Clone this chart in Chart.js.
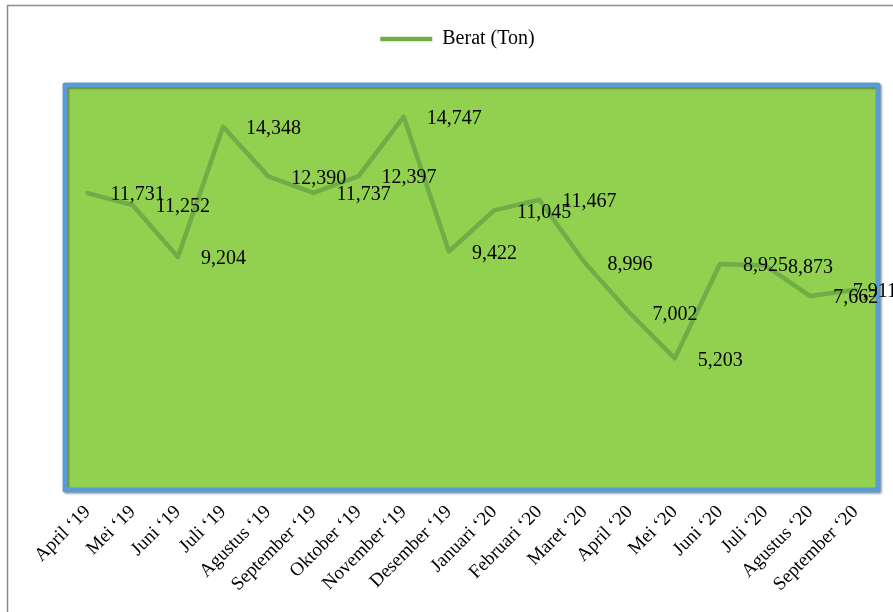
<!DOCTYPE html>
<html>
<head>
<meta charset="utf-8">
<script src="https://cdn.jsdelivr.net/npm/chart.js@4.4.1/dist/chart.umd.min.js"></script>
<style>
  body { margin: 0; background: #fff; }
  #wrap { width: 893px; height: 612px; }
</style>
</head>
<body>
<div id="wrap"><canvas id="beratChart" width="893" height="612"></canvas></div>
<script>
const months = [
    'April ‘19', 'Mei ‘19', 'Juni ‘19', 'Juli ‘19', 'Agustus ‘19', 'September ‘19',
    'Oktober ‘19', 'November ‘19', 'Desember ‘19', 'Januari ‘20', 'Februari ‘20', 'Maret ‘20',
    'April ‘20', 'Mei ‘20', 'Juni ‘20', 'Juli ‘20', 'Agustus ‘20', 'September ‘20'
];
const berat = [
    11731, 11252, 9204, 14348, 12390, 11737, 12397, 14747, 9422,
    11045, 11467, 8996, 7002, 5203, 8925, 8873, 7662, 7911
];
const seriesName = 'Berat (Ton)';
const yMin = 0;
const yMax = 16000;

const SERIF = '"Liberation Serif", "Times New Roman", serif';
const LINE_GREEN = '#70AD47';

// green plot area with the blue frame, plus the grey outer chart border
const plotFrame = {
    id: 'plotFrame',
    beforeDraw(chart) {
        const { ctx, chartArea: a } = chart;
        ctx.save();
        ctx.strokeStyle = '#8c8c8c';
        ctx.lineWidth = 1.5;
        ctx.beginPath();
        ctx.moveTo(7.5, chart.height + 2);
        ctx.lineTo(7.5, 5.5);
        ctx.lineTo(chart.width + 2, 5.5);
        ctx.stroke();

        ctx.fillStyle = '#92D050';
        ctx.fillRect(a.left, a.top, a.width, a.height);
        ctx.shadowColor = 'rgba(0, 0, 0, 0.35)';
        ctx.shadowOffsetX = 1.5;
        ctx.shadowOffsetY = 1.5;
        ctx.shadowBlur = 2;
        ctx.strokeStyle = '#5B9BD5';
        ctx.lineWidth = 5;
        ctx.lineJoin = 'round';
        ctx.strokeRect(a.left, a.top, a.width, a.height);
        ctx.restore();
    }
};

// value printed to the right of every point
const valueLabels = {
    id: 'valueLabels',
    afterDatasetsDraw(chart) {
        const { ctx } = chart;
        const meta = chart.getDatasetMeta(0);
        ctx.save();
        ctx.font = '20px ' + SERIF;
        ctx.fillStyle = '#000';
        ctx.textAlign = 'left';
        ctx.textBaseline = 'middle';
        meta.data.forEach((pt, i) => {
            const text = berat[i].toLocaleString('en-US');
            const w = ctx.measureText(text).width;
            let x = pt.x + 23;
            if (x + w > 897) x = 897 - w;
            ctx.fillText(text, x, pt.y + 2);
        });
        ctx.restore();
    }
};

// extra room under the legend, and nudge it left a bit
const legendSpacing = {
    id: 'legendSpacing',
    beforeInit(chart) {
        const fit = chart.legend.fit;
        chart.legend.fit = function () {
            fit.bind(chart.legend)();
            this.height += 26;
        };
    },
    afterLayout(chart) {
        chart.legend.left -= 14;
        chart.legend.right -= 14;
    }
};

new Chart(document.getElementById('beratChart'), {
    type: 'line',
    data: {
        labels: months,
        datasets: [{
            label: seriesName,
            data: berat,
            borderColor: LINE_GREEN,
            backgroundColor: LINE_GREEN,
            borderWidth: 4.5,
            borderCapStyle: 'round',
            borderJoinStyle: 'round',
            pointRadius: 0,
            tension: 0,
            fill: false
        }]
    },
    options: {
        responsive: false,
        animation: false,
        layout: {
            padding: { left: 65, right: 15, top: 19, bottom: 0 }
        },
        plugins: {
            legend: {
                position: 'top',
                labels: {
                    usePointStyle: true,
                    pointStyle: 'line',
                    pointStyleWidth: 52,
                    padding: 10,
                    color: '#000',
                    font: { family: SERIF, size: 20 }
                }
            },
            tooltip: { enabled: false }
        },
        scales: {
            x: {
                offset: true,
                grid: { display: false },
                border: { display: false },
                ticks: {
                    autoSkip: false,
                    maxRotation: 45,
                    minRotation: 45,
                    padding: 3,
                    color: '#000',
                    font: { family: SERIF, size: 19 }
                },
                afterFit(scale) {
                    scale.height = 122;
                }
            },
            y: {
                display: false,
                min: yMin,
                max: yMax
            }
        }
    },
    plugins: [plotFrame, valueLabels, legendSpacing]
});
</script>
</body>
</html>
